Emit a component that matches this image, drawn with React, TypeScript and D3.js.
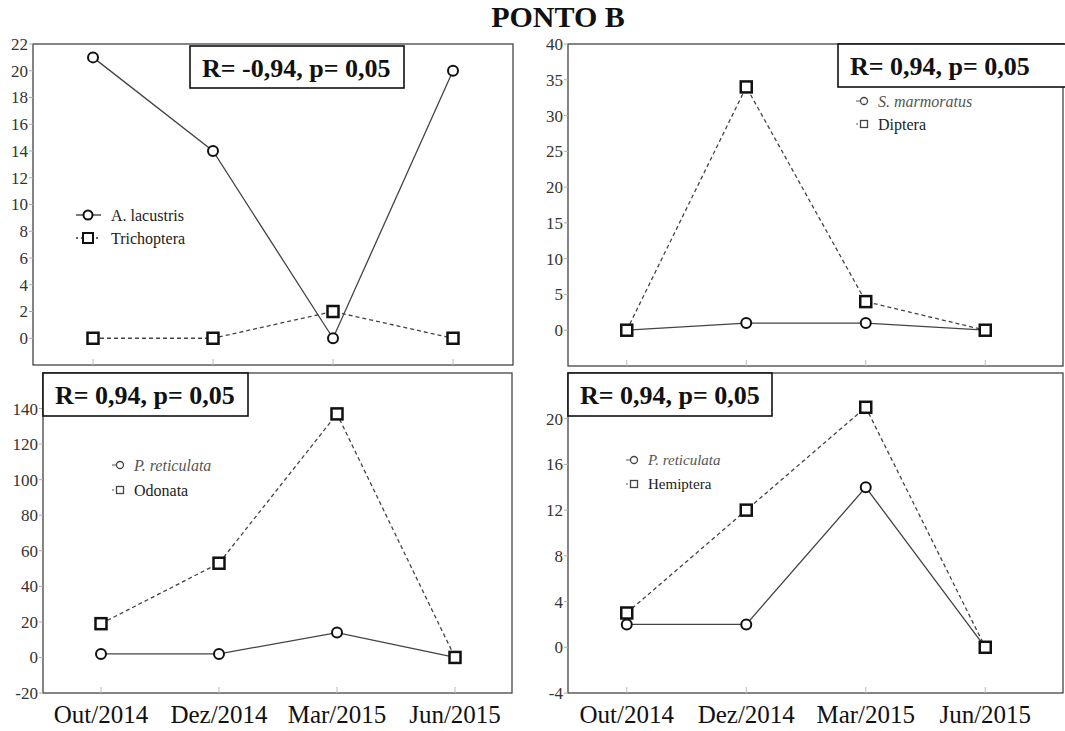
import React from 'react';
import * as d3 from 'd3';

const months = ['Out/2014', 'Dez/2014', 'Mar/2015', 'Jun/2015'];

// Ponto B counts per sampling month
const aLacustris = [21, 14, 0, 20];
const trichoptera = [0, 0, 2, 0];
const sMarmoratus = [0, 1, 1, 0];
const diptera = [0, 34, 4, 0];
const pReticulataA = [2, 2, 14, 0];
const odonata = [19, 53, 137, 0];
const pReticulataB = [2, 2, 14, 0];
const hemiptera = [3, 12, 21, 0];

const ticksTL = [0, 2, 4, 6, 8, 10, 12, 14, 16, 18, 20, 22];
const ticksTR = [0, 5, 10, 15, 20, 25, 30, 35, 40];
const ticksBL = [-20, 0, 20, 40, 60, 80, 100, 120, 140];
const ticksBR = [-4, 0, 4, 8, 12, 16, 20];

const corrTL = 'R= -0,94, p= 0,05';
const corrOther = 'R= 0,94, p= 0,05';

const serif = '"Liberation Serif", "Times New Roman", serif';

type Series = { name: string; values: number[]; italic: boolean; marker: 'circle' | 'square'; dashed: boolean };

type PanelProps = {
  frame: { x: number; y: number; w: number; h: number };
  xRange: [number, number];
  domain: [number, number];
  ticks: number[];
  series: Series[];
  corr: { text: string; x: number; y: number; w: number; h: number };
  legend: { x: number; y: number; gap: number; size: number; style: 'big' | 'small' };
  xLabels: boolean;
};

const Marker = ({ kind, x, y, s, sw, color }: { kind: string; x: number; y: number; s: number; sw: number; color: string }) =>
  kind === 'circle' ? (
    <circle cx={x} cy={y} r={s / 2} fill="#fff" stroke={color} strokeWidth={sw} />
  ) : (
    <rect x={x - s / 2} y={y - s / 2} width={s} height={s} fill="#fff" stroke={color} strokeWidth={sw} />
  );

const Panel = ({ frame, xRange, domain, ticks, series, corr, legend, xLabels }: PanelProps) => {
  const x = d3.scalePoint<string>().domain(months).range(xRange).padding(0.5);
  const y = d3.scaleLinear().domain(domain).range([frame.y + frame.h, frame.y]);
  const line = d3
    .line<number>()
    .x((_, i) => x(months[i]) as number)
    .y((d) => y(d));

  return (
    <g>
      <rect x={frame.x} y={frame.y} width={frame.w} height={frame.h} fill="none" stroke="#444" strokeWidth={1.3} />
      {ticks.map((t) => (
        <g key={t}>
          <line x1={frame.x - 4} x2={frame.x} y1={y(t)} y2={y(t)} stroke="#aaa" strokeWidth={1} />
          <text x={frame.x - 5} y={y(t)} dy="0.35em" textAnchor="end" fontSize={17} fill="#333" fontFamily={serif}>
            {t}
          </text>
        </g>
      ))}
      {months.map((m) => (
        <g key={m}>
          <line x1={x(m)} x2={x(m)} y1={frame.y + frame.h} y2={frame.y + frame.h - 6} stroke="#bbb" strokeWidth={1} />
          {xLabels && (
            <text x={x(m)} y={723} textAnchor="middle" fontSize={25} fill="#111" fontFamily={serif}>
              {m}
            </text>
          )}
        </g>
      ))}
      {series.map((s) => (
        <g key={s.name}>
          <path
            d={line(s.values) || ''}
            fill="none"
            stroke="#444"
            strokeWidth={1.3}
            strokeDasharray={s.dashed ? '4,3' : undefined}
          />
          {s.values.map((v, i) => (
            <Marker
              key={i}
              kind={s.marker}
              x={x(months[i]) as number}
              y={y(v)}
              s={s.marker === 'circle' ? 10 : 11}
              sw={s.marker === 'circle' ? 2 : 2.5}
              color="#111"
            />
          ))}
        </g>
      ))}
      <rect x={corr.x} y={corr.y} width={corr.w} height={corr.h} fill="#fff" stroke="#111" strokeWidth={1.6} />
      <text x={corr.x + 12} y={corr.y + 31} fontSize={26} fontWeight="bold" fill="#111" fontFamily={serif}>
        {corr.text}
      </text>
      {series.map((s, i) => {
        const ly = legend.y + i * legend.gap;
        const big = legend.style === 'big';
        return (
          <g key={s.name}>
            {big ? (
              <line
                x1={legend.x - 12}
                x2={legend.x + 13}
                y1={ly}
                y2={ly}
                stroke="#333"
                strokeWidth={1.3}
                strokeDasharray={s.dashed ? '2,3' : undefined}
              />
            ) : (
              <line x1={legend.x - 8} x2={legend.x} y1={ly} y2={ly} stroke="#555" strokeWidth={1} strokeDasharray={s.dashed ? '2,2' : undefined} />
            )}
            <Marker
              kind={s.marker}
              x={legend.x}
              y={ly}
              s={big ? (s.marker === 'circle' ? 9 : 10) : 7}
              sw={big ? 2 : 1.3}
              color={big ? '#111' : '#444'}
            />
            <text
              x={legend.x + (big ? 23 : 14)}
              y={ly}
              dy="0.35em"
              fontSize={legend.size}
              fontStyle={s.italic ? 'italic' : 'normal'}
              fill={s.italic && !big ? '#555' : '#222'}
              fontFamily={serif}
            >
              {s.name}
            </text>
          </g>
        );
      })}
    </g>
  );
};

export default function App() {
  return (
    <svg
      width={1065}
      height={731}
      style={{ position: 'absolute', left: 0, top: 0, background: '#fff' }}
    >
      <rect width={1065} height={731} fill="#fff" />
      <text x={558} y={27} textAnchor="middle" fontSize={30} fontWeight="bold" fill="#111" fontFamily={serif}>
        PONTO B
      </text>
      <Panel
        frame={{ x: 33, y: 44, w: 480, h: 321 }}
        xRange={[33, 513]}
        domain={[-2, 22]}
        ticks={ticksTL}
        series={[
          { name: 'A. lacustris', values: aLacustris, italic: false, marker: 'circle', dashed: false },
          { name: 'Trichoptera', values: trichoptera, italic: false, marker: 'square', dashed: true },
        ]}
        corr={{ text: corrTL, x: 190, y: 46, w: 214, h: 42 }}
        legend={{ x: 88, y: 215, gap: 23, size: 16, style: 'big' }}
        xLabels={false}
      />
      <Panel
        frame={{ x: 568, y: 44, w: 495, h: 322 }}
        xRange={[567, 1045]}
        domain={[-5, 40]}
        ticks={ticksTR}
        series={[
          { name: 'S. marmoratus', values: sMarmoratus, italic: true, marker: 'circle', dashed: false },
          { name: 'Diptera', values: diptera, italic: false, marker: 'square', dashed: true },
        ]}
        corr={{ text: corrOther, x: 838, y: 44, w: 240, h: 43 }}
        legend={{ x: 864, y: 101, gap: 23, size: 16, style: 'small' }}
        xLabels={false}
      />
      <Panel
        frame={{ x: 43, y: 373, w: 469, h: 320 }}
        xRange={[42, 514]}
        domain={[-20, 160]}
        ticks={ticksBL}
        series={[
          { name: 'P. reticulata', values: pReticulataA, italic: true, marker: 'circle', dashed: false },
          { name: 'Odonata', values: odonata, italic: false, marker: 'square', dashed: true },
        ]}
        corr={{ text: corrOther, x: 43, y: 373, w: 205, h: 43 }}
        legend={{ x: 120, y: 465, gap: 25, size: 16, style: 'small' }}
        xLabels={true}
      />
      <Panel
        frame={{ x: 568, y: 373, w: 495, h: 320 }}
        xRange={[567, 1045]}
        domain={[-4, 24]}
        ticks={ticksBR}
        series={[
          { name: 'P. reticulata', values: pReticulataB, italic: true, marker: 'circle', dashed: false },
          { name: 'Hemiptera', values: hemiptera, italic: false, marker: 'square', dashed: true },
        ]}
        corr={{ text: corrOther, x: 568, y: 373, w: 204, h: 43 }}
        legend={{ x: 634, y: 460, gap: 24, size: 15, style: 'small' }}
        xLabels={true}
      />
    </svg>
  );
}
